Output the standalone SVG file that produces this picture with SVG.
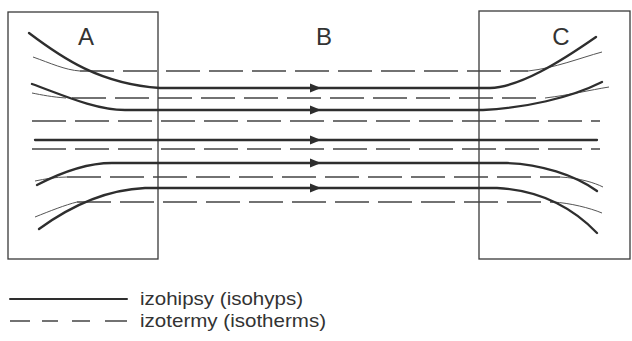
<svg xmlns="http://www.w3.org/2000/svg" xmlns:xlink="http://www.w3.org/1999/xlink" width="632" height="341" viewBox="0 0 632 341">
  <style>
    .frame { fill: none; stroke: #3a3a3a; stroke-width: 1.3; }
    .hypso { fill: none; stroke: #2e2e2e; stroke-width: 2.3; stroke-linecap: round; }
    .therm { fill: none; stroke: #444; stroke-width: 1.6; stroke-dasharray: 34 9; }
    .thin { fill: none; stroke: #555; stroke-width: 1; }
    .head { fill: #2e2e2e; }
    .zone { font-family: "Liberation Sans", Arial, sans-serif; font-size: 24px; fill: #333; text-anchor: middle; }
    .key { font-family: "Liberation Sans", Arial, sans-serif; font-size: 19px; fill: #333; }
  </style>
  <defs>
    <path id="flow" d="M-6,-4.5 L5,0 L-6,4.5 Z"/>
  </defs>
  <rect width="632" height="341" fill="#fff"/>

  <g id="zone-A">
    <rect class="frame" x="8" y="12" width="150" height="247"/>
    <text class="zone" x="86" y="45">A</text>
  </g>
  <g id="zone-B">
    <text class="zone" x="324" y="45">B</text>
  </g>
  <g id="zone-C">
    <rect class="frame" x="479" y="11" width="151" height="248"/>
    <text class="zone" x="561" y="45">C</text>
  </g>

  <g id="connectors">
    <!-- isotherms: thin where they diverge, dashed where parallel -->
    <path class="thin" d="M33,57 C50,63 65,70 80,71"/>
    <path class="therm" d="M80,71 L528,71"/>
    <path class="thin" d="M528,71 C555,68 580,58 602,52"/>

    <path class="thin" d="M32,93 C42,95 52,97 66,98"/>
    <path class="therm" d="M72,98 L545,98"/>
    <path class="thin" d="M545,98 C570,95 590,90 609,87"/>

    <path class="therm" d="M32,121 L600,121"/>
    <path class="therm" d="M32,149 L600,149"/>

    <path class="thin" d="M35,181 C45,179 55,177 67,177"/>
    <path class="therm" d="M67,177 L560,177"/>
    <path class="thin" d="M560,177 C580,178 595,183 603,187"/>

    <path class="thin" d="M35,217 C50,211 65,205 77,202"/>
    <path class="therm" d="M77,202 L553,202"/>
    <path class="thin" d="M553,202 C570,203 590,208 602,213"/>

    <!-- isohypses -->
    <path class="hypso" d="M29,33 C62,58 100,84 160,88 L490,88 C520,87 560,62 596,37"/>
    <path class="hypso" d="M32,84 C60,94 95,110 125,110 L483,110 C525,108 570,98 602,82"/>
    <path class="hypso" d="M35,140 L597,140"/>
    <path class="hypso" d="M37,185 C60,173 85,163 112,163 L507,163 C540,164 575,175 597,191"/>
    <path class="hypso" d="M39,229 C65,210 100,190 145,188 L497,188 C535,190 570,205 597,233"/>

    <!-- flow direction -->
    <use class="head" xlink:href="#flow" x="316" y="88"/>
    <use class="head" xlink:href="#flow" x="316" y="110"/>
    <use class="head" xlink:href="#flow" x="316" y="140"/>
    <use class="head" xlink:href="#flow" x="316" y="163"/>
    <use class="head" xlink:href="#flow" x="316" y="188"/>
  </g>

  <g id="legend">
    <line class="hypso" x1="10" y1="299" x2="127" y2="299" style="stroke-width:2"/>
    <text class="key" x="140" y="305" textLength="163" lengthAdjust="spacingAndGlyphs">izohipsy (isohyps)</text>
    <line x1="10" y1="321" x2="127" y2="321" stroke="#444" stroke-width="1.5" stroke-dasharray="20 12 16 14 18 15 22"/>
    <text class="key" x="140" y="327" textLength="186" lengthAdjust="spacingAndGlyphs">izotermy (isotherms)</text>
  </g>
</svg>
